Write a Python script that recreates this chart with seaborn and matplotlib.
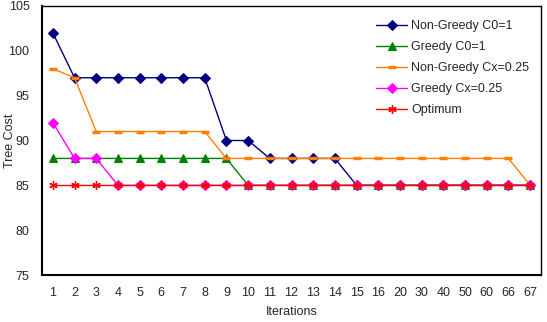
import numpy as np
import pandas as pd
import matplotlib
matplotlib.use("Agg")
import matplotlib.pyplot as plt
import seaborn as sns

# Data
iterations = ["1", "2", "3", "4", "5", "6", "7", "8", "9", "10", "11", "12",
              "13", "14", "15", "16", "20", "30", "40", "50", "60", "66", "67"]
non_greedy_c0 = [102, 97, 97, 97, 97, 97, 97, 97, 90, 90, 88, 88,
                 88, 88, 85, 85, 85, 85, 85, 85, 85, 85, 85]
greedy_c0 = [88, 88, 88, 88, 88, 88, 88, 88, 88, 85, 85, 85,
             85, 85, 85, 85, 85, 85, 85, 85, 85, 85, 85]
non_greedy_cx = [98, 97, 91, 91, 91, 91, 91, 91, 88, 88, 88, 88,
                 88, 88, 88, 88, 88, 88, 88, 88, 88, 88, 85]
greedy_cx = [92, 88, 88, 85, 85, 85, 85, 85, 85, 85, 85, 85,
             85, 85, 85, 85, 85, 85, 85, 85, 85, 85, 85]
optimum = [85] * len(iterations)

series = [
    ("Non-Greedy C0=1", non_greedy_c0, "#000080", "D", 5),
    ("Greedy C0=1", greedy_c0, "#008000", "^", 6),
    ("Non-Greedy Cx=0.25", non_greedy_cx, "#FF8000", "_", 6),
    ("Greedy Cx=0.25", greedy_cx, "#FF00FF", "D", 5),
    ("Optimum", optimum, "#FF0000", (6, 2, 0), 6),
]

sns.set_style("white")
plt.rcParams['font.family'] = ['Liberation Sans', 'DejaVu Sans']

fig = plt.figure(figsize=(5.47, 3.22), dpi=100)
ax = fig.add_axes([42 / 547, 1 - 275 / 322, 499 / 547, 269 / 322])

pos = np.arange(len(iterations))
for name, vals, col, mk, ms in series:
    df = pd.DataFrame({"pos": pos, "cost": vals})
    kw = dict(markersize=ms, markeredgecolor=col, markerfacecolor=col)
    if mk == "_":
        kw["markeredgewidth"] = 2.5
    elif mk == (6, 2, 0):
        kw["markeredgewidth"] = 1.0
    sns.lineplot(data=df, x="pos", y="cost", ax=ax, color=col, marker=mk,
                 linewidth=1, label=name, **kw)

ax.set_xlim(-0.5, len(iterations) - 0.5)
ax.set_ylim(75, 105)
ax.set_yticks(range(75, 106, 5))
ax.set_xticks(pos)
ax.set_xticklabels(iterations)
ax.set_xticks(np.arange(-0.5, len(iterations), 1), minor=True)
ax.tick_params(axis="x", which="major", length=0, labelsize=9, pad=9)
ax.tick_params(axis="x", which="minor", length=5, direction="inout", width=1)
ax.tick_params(axis="y", length=4, direction="out", width=1, labelsize=9, pad=5)
ax.set_xlabel("Iterations", fontsize=9, labelpad=5)
ax.set_ylabel("Tree Cost", fontsize=9)
ax.yaxis.set_label_coords(-0.052, 0.5)

for side in ["left", "bottom"]:
    ax.spines[side].set_linewidth(1.5)
    ax.spines[side].set_color("black")
for side in ["top", "right"]:
    ax.spines[side].set_linewidth(1)
    ax.spines[side].set_color("black")

ax.legend(loc="upper left", bbox_to_anchor=(376 / 547, 1 - 20 / 322),
          bbox_transform=fig.transFigure, fontsize=9, frameon=False,
          borderaxespad=0, borderpad=0, handlelength=2.5, labelspacing=0.72,
          handletextpad=0.3)

plt.savefig("out.png", dpi=100)
